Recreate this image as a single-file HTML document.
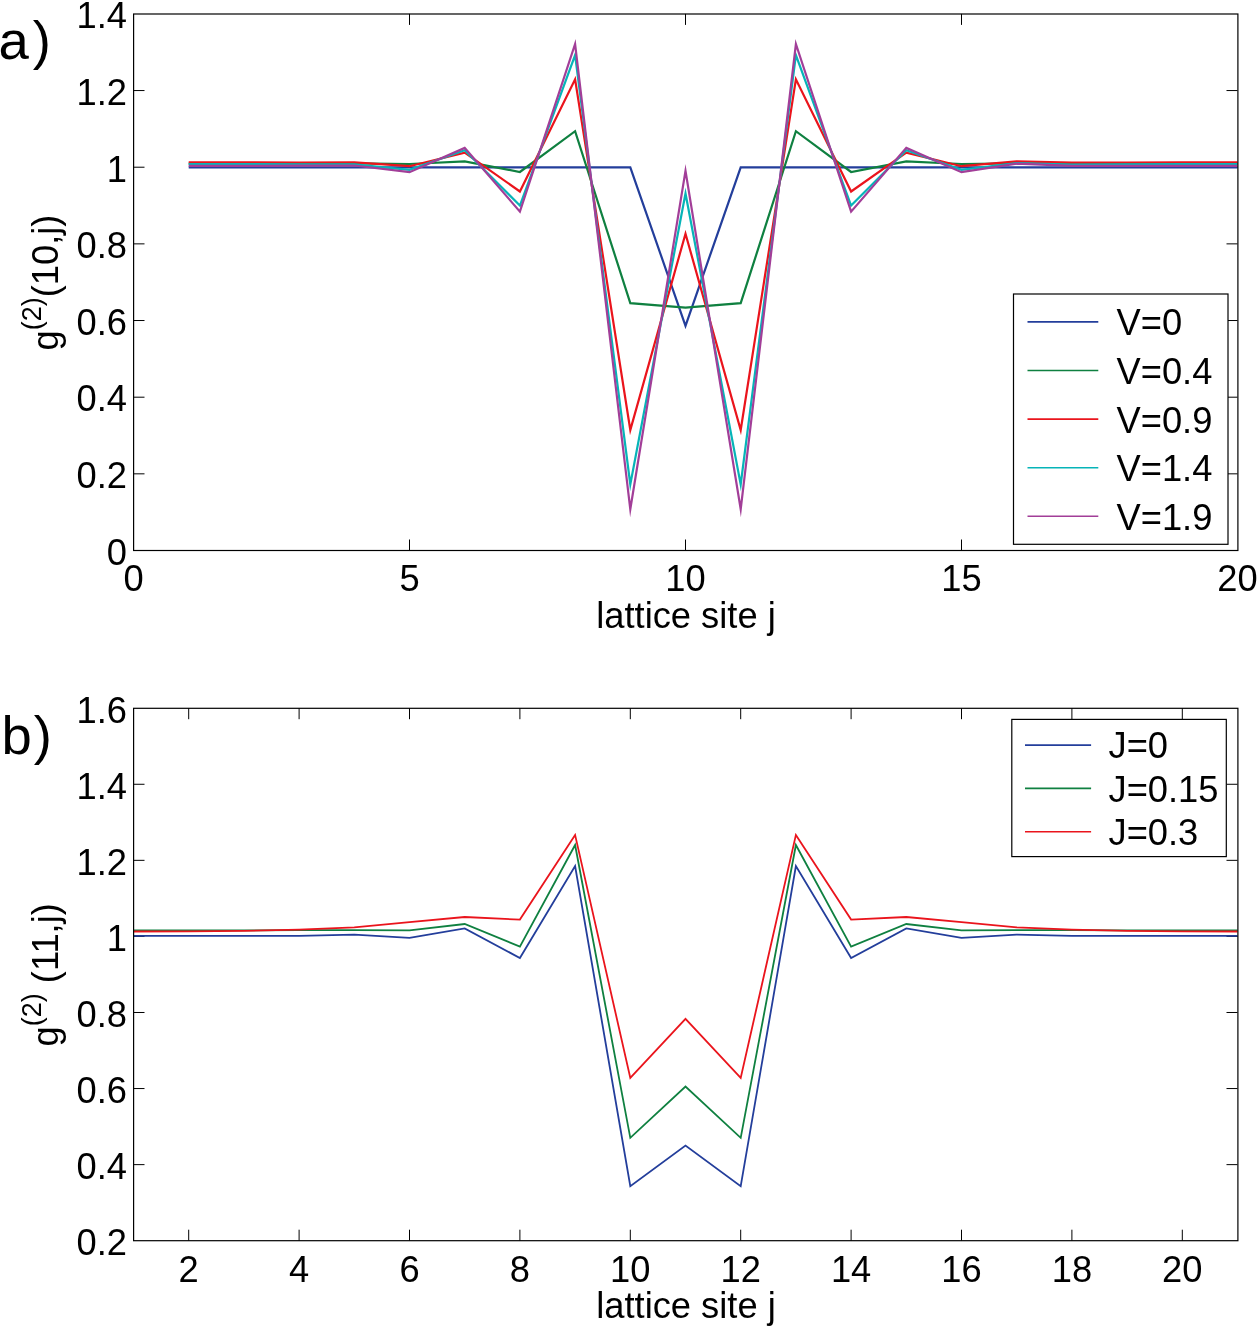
<!DOCTYPE html>
<html><head><meta charset="utf-8"><title>g2 correlation plots</title>
<style>html,body{margin:0;padding:0;background:#fff;}body{width:1259px;height:1328px;overflow:hidden;}svg{display:block;}</style></head><body>
<svg width="1259" height="1328" viewBox="0 0 1259 1328" font-family='"Liberation Sans", Arial, Helvetica, sans-serif' fill="#000">
<rect width="1259" height="1328" fill="#fff"/>
<line x1="409.5" y1="550.5" x2="409.5" y2="539.5" stroke="#000" stroke-width="1.0"/>
<line x1="409.5" y1="13.9" x2="409.5" y2="24.9" stroke="#000" stroke-width="1.0"/>
<line x1="685.5" y1="550.5" x2="685.5" y2="539.5" stroke="#000" stroke-width="1.0"/>
<line x1="685.5" y1="13.9" x2="685.5" y2="24.9" stroke="#000" stroke-width="1.0"/>
<line x1="961.5" y1="550.5" x2="961.5" y2="539.5" stroke="#000" stroke-width="1.0"/>
<line x1="961.5" y1="13.9" x2="961.5" y2="24.9" stroke="#000" stroke-width="1.0"/>
<line x1="133.5" y1="473.84" x2="144.5" y2="473.84" stroke="#000" stroke-width="1.0"/>
<line x1="1237.5" y1="473.84" x2="1226.5" y2="473.84" stroke="#000" stroke-width="1.0"/>
<line x1="133.5" y1="397.19" x2="144.5" y2="397.19" stroke="#000" stroke-width="1.0"/>
<line x1="1237.5" y1="397.19" x2="1226.5" y2="397.19" stroke="#000" stroke-width="1.0"/>
<line x1="133.5" y1="320.53" x2="144.5" y2="320.53" stroke="#000" stroke-width="1.0"/>
<line x1="1237.5" y1="320.53" x2="1226.5" y2="320.53" stroke="#000" stroke-width="1.0"/>
<line x1="133.5" y1="243.87" x2="144.5" y2="243.87" stroke="#000" stroke-width="1.0"/>
<line x1="1237.5" y1="243.87" x2="1226.5" y2="243.87" stroke="#000" stroke-width="1.0"/>
<line x1="133.5" y1="167.21" x2="144.5" y2="167.21" stroke="#000" stroke-width="1.0"/>
<line x1="1237.5" y1="167.21" x2="1226.5" y2="167.21" stroke="#000" stroke-width="1.0"/>
<line x1="133.5" y1="90.56" x2="144.5" y2="90.56" stroke="#000" stroke-width="1.0"/>
<line x1="1237.5" y1="90.56" x2="1226.5" y2="90.56" stroke="#000" stroke-width="1.0"/>
<polyline points="188.7,167.3 243.9,167.3 299.1,167.3 354.3,167.3 409.5,167.3 464.7,167.3 519.9,167.3 575.1,167.3 630.3,167.3 685.5,325.8 740.7,167.3 795.9,167.3 851.1,167.3 906.3,167.3 961.5,167.3 1016.7,167.3 1071.9,167.3 1127.1,167.3 1182.3,167.3 1237.5,167.3" fill="none" stroke="#233e9b" stroke-width="2.2" stroke-linejoin="miter" stroke-miterlimit="10" stroke-linecap="butt"/>
<polyline points="188.7,163.6 243.9,163.6 299.1,163.5 354.3,163.3 409.5,164 464.7,161.4 519.9,172 575.1,131.2 630.3,303.2 685.5,307.6 740.7,303.2 795.9,131.2 851.1,172 906.3,161.4 961.5,164 1016.7,163.4 1071.9,163.5 1127.1,163.6 1182.3,163.6 1237.5,163.6" fill="none" stroke="#0f8040" stroke-width="2.2" stroke-linejoin="miter" stroke-miterlimit="10" stroke-linecap="butt"/>
<polyline points="188.7,162.4 243.9,162.4 299.1,162.5 354.3,162.3 409.5,166.2 464.7,152.6 519.9,191.5 575.1,79.3 630.3,430 685.5,233.7 740.7,430 795.9,79.3 851.1,191.5 906.3,152.6 961.5,166.2 1016.7,161.4 1071.9,162.6 1127.1,162.5 1182.3,162.4 1237.5,162.4" fill="none" stroke="#ea141c" stroke-width="2.2" stroke-linejoin="miter" stroke-miterlimit="10" stroke-linecap="butt"/>
<polyline points="188.7,164.1 243.9,164.2 299.1,164.3 354.3,164.3 409.5,169.8 464.7,150.2 519.9,205.6 575.1,55 630.3,484.5 685.5,193.5 740.7,484.5 795.9,55 851.1,205.6 906.3,150.2 961.5,169.8 1016.7,163 1071.9,164.5 1127.1,164.3 1182.3,164.2 1237.5,164.1" fill="none" stroke="#06b4b8" stroke-width="2.2" stroke-linejoin="miter" stroke-miterlimit="10" stroke-linecap="butt"/>
<polyline points="188.7,165.9 243.9,165.9 299.1,165.6 354.3,165.5 409.5,172.2 464.7,147.9 519.9,211.6 575.1,44 630.3,509.3 685.5,170.8 740.7,509.3 795.9,44 851.1,211.6 906.3,147.9 961.5,172.2 1016.7,163.7 1071.9,165.9 1127.1,165.8 1182.3,165.9 1237.5,165.9" fill="none" stroke="#a23e98" stroke-width="2.2" stroke-linejoin="miter" stroke-miterlimit="10" stroke-linecap="butt"/>
<rect x="133.6" y="14" width="1104.3" height="536.5" fill="none" stroke="#000" stroke-width="1.2"/>
<text x="127" y="564.8" text-anchor="end" font-size="36.3">0</text>
<text x="127" y="488.14" text-anchor="end" font-size="36.3">0.2</text>
<text x="127" y="411.49" text-anchor="end" font-size="36.3">0.4</text>
<text x="127" y="334.83" text-anchor="end" font-size="36.3">0.6</text>
<text x="127" y="258.17" text-anchor="end" font-size="36.3">0.8</text>
<text x="127" y="181.51" text-anchor="end" font-size="36.3">1</text>
<text x="127" y="104.86" text-anchor="end" font-size="36.3">1.2</text>
<text x="127" y="28.2" text-anchor="end" font-size="36.3">1.4</text>
<text x="133.5" y="591.3" text-anchor="middle" font-size="36.3">0</text>
<text x="409.5" y="591.3" text-anchor="middle" font-size="36.3">5</text>
<text x="685.5" y="591.3" text-anchor="middle" font-size="36.3">10</text>
<text x="961.5" y="591.3" text-anchor="middle" font-size="36.3">15</text>
<text x="1237.5" y="591.3" text-anchor="middle" font-size="36.3">20</text>
<text x="686" y="627.5" text-anchor="middle" font-size="36.3">lattice site j</text>
<text transform="translate(58.2,282.5) rotate(-90)" text-anchor="middle" font-size="36.3">g<tspan font-size="27" dy="-17.3">(2)</tspan><tspan dy="17.3">(10,j)</tspan></text>
<text x="-1.5" y="59" text-anchor="start" font-size="54.5">a</text>
<text x="32.7" y="59" text-anchor="start" font-size="54.5">)</text>
<rect x="1013.5" y="294" width="214.5" height="250.3" fill="#fff" stroke="#000" stroke-width="1.2"/>
<line x1="1027.5" y1="321.9" x2="1098.3" y2="321.9" stroke="#233e9b" stroke-width="1.6"/>
<text x="1116.5" y="335.3" text-anchor="start" font-size="36.3">V=0</text>
<line x1="1027.5" y1="370.5" x2="1098.3" y2="370.5" stroke="#0f8040" stroke-width="1.6"/>
<text x="1116.5" y="383.9" text-anchor="start" font-size="36.3">V=0.4</text>
<line x1="1027.5" y1="419.1" x2="1098.3" y2="419.1" stroke="#ea141c" stroke-width="1.6"/>
<text x="1116.5" y="432.5" text-anchor="start" font-size="36.3">V=0.9</text>
<line x1="1027.5" y1="467.7" x2="1098.3" y2="467.7" stroke="#06b4b8" stroke-width="1.6"/>
<text x="1116.5" y="481.1" text-anchor="start" font-size="36.3">V=1.4</text>
<line x1="1027.5" y1="516.3" x2="1098.3" y2="516.3" stroke="#a23e98" stroke-width="1.6"/>
<text x="1116.5" y="529.7" text-anchor="start" font-size="36.3">V=1.9</text>
<line x1="188.7" y1="1240.7" x2="188.7" y2="1229.7" stroke="#000" stroke-width="1.0"/>
<line x1="188.7" y1="708.2" x2="188.7" y2="719.2" stroke="#000" stroke-width="1.0"/>
<line x1="299.1" y1="1240.7" x2="299.1" y2="1229.7" stroke="#000" stroke-width="1.0"/>
<line x1="299.1" y1="708.2" x2="299.1" y2="719.2" stroke="#000" stroke-width="1.0"/>
<line x1="409.5" y1="1240.7" x2="409.5" y2="1229.7" stroke="#000" stroke-width="1.0"/>
<line x1="409.5" y1="708.2" x2="409.5" y2="719.2" stroke="#000" stroke-width="1.0"/>
<line x1="519.9" y1="1240.7" x2="519.9" y2="1229.7" stroke="#000" stroke-width="1.0"/>
<line x1="519.9" y1="708.2" x2="519.9" y2="719.2" stroke="#000" stroke-width="1.0"/>
<line x1="630.3" y1="1240.7" x2="630.3" y2="1229.7" stroke="#000" stroke-width="1.0"/>
<line x1="630.3" y1="708.2" x2="630.3" y2="719.2" stroke="#000" stroke-width="1.0"/>
<line x1="740.7" y1="1240.7" x2="740.7" y2="1229.7" stroke="#000" stroke-width="1.0"/>
<line x1="740.7" y1="708.2" x2="740.7" y2="719.2" stroke="#000" stroke-width="1.0"/>
<line x1="851.1" y1="1240.7" x2="851.1" y2="1229.7" stroke="#000" stroke-width="1.0"/>
<line x1="851.1" y1="708.2" x2="851.1" y2="719.2" stroke="#000" stroke-width="1.0"/>
<line x1="961.5" y1="1240.7" x2="961.5" y2="1229.7" stroke="#000" stroke-width="1.0"/>
<line x1="961.5" y1="708.2" x2="961.5" y2="719.2" stroke="#000" stroke-width="1.0"/>
<line x1="1071.9" y1="1240.7" x2="1071.9" y2="1229.7" stroke="#000" stroke-width="1.0"/>
<line x1="1071.9" y1="708.2" x2="1071.9" y2="719.2" stroke="#000" stroke-width="1.0"/>
<line x1="1182.3" y1="1240.7" x2="1182.3" y2="1229.7" stroke="#000" stroke-width="1.0"/>
<line x1="1182.3" y1="708.2" x2="1182.3" y2="719.2" stroke="#000" stroke-width="1.0"/>
<line x1="133.5" y1="1164.63" x2="144.5" y2="1164.63" stroke="#000" stroke-width="1.0"/>
<line x1="1237.5" y1="1164.63" x2="1226.5" y2="1164.63" stroke="#000" stroke-width="1.0"/>
<line x1="133.5" y1="1088.56" x2="144.5" y2="1088.56" stroke="#000" stroke-width="1.0"/>
<line x1="1237.5" y1="1088.56" x2="1226.5" y2="1088.56" stroke="#000" stroke-width="1.0"/>
<line x1="133.5" y1="1012.49" x2="144.5" y2="1012.49" stroke="#000" stroke-width="1.0"/>
<line x1="1237.5" y1="1012.49" x2="1226.5" y2="1012.49" stroke="#000" stroke-width="1.0"/>
<line x1="133.5" y1="936.41" x2="144.5" y2="936.41" stroke="#000" stroke-width="1.0"/>
<line x1="1237.5" y1="936.41" x2="1226.5" y2="936.41" stroke="#000" stroke-width="1.0"/>
<line x1="133.5" y1="860.34" x2="144.5" y2="860.34" stroke="#000" stroke-width="1.0"/>
<line x1="1237.5" y1="860.34" x2="1226.5" y2="860.34" stroke="#000" stroke-width="1.0"/>
<line x1="133.5" y1="784.27" x2="144.5" y2="784.27" stroke="#000" stroke-width="1.0"/>
<line x1="1237.5" y1="784.27" x2="1226.5" y2="784.27" stroke="#000" stroke-width="1.0"/>
<polyline points="133.5,935.9 188.7,935.9 243.9,935.9 299.1,935.8 354.3,934.6 409.5,937.8 464.7,928.4 519.9,958 575.1,866 630.3,1186.2 685.5,1145.5 740.7,1186.2 795.9,866 851.1,958 906.3,928.4 961.5,937.8 1016.7,934.6 1071.9,935.8 1127.1,935.9 1182.3,935.9 1237.5,935.9" fill="none" stroke="#233e9b" stroke-width="1.8" stroke-linejoin="miter" stroke-miterlimit="10" stroke-linecap="butt"/>
<polyline points="133.5,930.4 188.7,930.4 243.9,930.3 299.1,930.2 354.3,930.1 409.5,930.4 464.7,924 519.9,946.6 575.1,845 630.3,1137.8 685.5,1086.5 740.7,1137.8 795.9,845 851.1,946.6 906.3,924 961.5,930.4 1016.7,930.1 1071.9,930.2 1127.1,930.3 1182.3,930.4 1237.5,930.4" fill="none" stroke="#0f8040" stroke-width="1.8" stroke-linejoin="miter" stroke-miterlimit="10" stroke-linecap="butt"/>
<polyline points="133.5,931.5 188.7,931.3 243.9,930.8 299.1,929.6 354.3,927.3 409.5,922.2 464.7,917 519.9,919.6 575.1,834.9 630.3,1077.9 685.5,1018.9 740.7,1077.9 795.9,834.9 851.1,919.6 906.3,917 961.5,922.2 1016.7,927.3 1071.9,929.6 1127.1,930.8 1182.3,931.3 1237.5,931.5" fill="none" stroke="#ea141c" stroke-width="1.8" stroke-linejoin="miter" stroke-miterlimit="10" stroke-linecap="butt"/>
<rect x="133.6" y="708.3" width="1104.3" height="532.4" fill="none" stroke="#000" stroke-width="1.2"/>
<text x="127" y="1255" text-anchor="end" font-size="36.3">0.2</text>
<text x="127" y="1178.93" text-anchor="end" font-size="36.3">0.4</text>
<text x="127" y="1102.86" text-anchor="end" font-size="36.3">0.6</text>
<text x="127" y="1026.79" text-anchor="end" font-size="36.3">0.8</text>
<text x="127" y="950.71" text-anchor="end" font-size="36.3">1</text>
<text x="127" y="874.64" text-anchor="end" font-size="36.3">1.2</text>
<text x="127" y="798.57" text-anchor="end" font-size="36.3">1.4</text>
<text x="127" y="722.5" text-anchor="end" font-size="36.3">1.6</text>
<text x="188.7" y="1281.5" text-anchor="middle" font-size="36.3">2</text>
<text x="299.1" y="1281.5" text-anchor="middle" font-size="36.3">4</text>
<text x="409.5" y="1281.5" text-anchor="middle" font-size="36.3">6</text>
<text x="519.9" y="1281.5" text-anchor="middle" font-size="36.3">8</text>
<text x="630.3" y="1281.5" text-anchor="middle" font-size="36.3">10</text>
<text x="740.7" y="1281.5" text-anchor="middle" font-size="36.3">12</text>
<text x="851.1" y="1281.5" text-anchor="middle" font-size="36.3">14</text>
<text x="961.5" y="1281.5" text-anchor="middle" font-size="36.3">16</text>
<text x="1071.9" y="1281.5" text-anchor="middle" font-size="36.3">18</text>
<text x="1182.3" y="1281.5" text-anchor="middle" font-size="36.3">20</text>
<text x="686" y="1317.8" text-anchor="middle" font-size="36.3">lattice site j</text>
<text transform="translate(58.2,974.8) rotate(-90)" text-anchor="middle" font-size="36.3">g<tspan font-size="27" dy="-17.3">(2)</tspan><tspan dy="17.3"> (11,j)</tspan></text>
<text x="1.5" y="753.6" text-anchor="start" font-size="54.5">b</text>
<text x="33.75" y="753.6" text-anchor="start" font-size="54.5">)</text>
<rect x="1011.8" y="719.4" width="214.5" height="137.2" fill="#fff" stroke="#000" stroke-width="1.2"/>
<line x1="1025" y1="745.1" x2="1091.1" y2="745.1" stroke="#233e9b" stroke-width="1.6"/>
<text x="1108.5" y="758.2" text-anchor="start" font-size="36.3">J=0</text>
<line x1="1025" y1="788.4" x2="1091.1" y2="788.4" stroke="#0f8040" stroke-width="1.6"/>
<text x="1108.5" y="801.5" text-anchor="start" font-size="36.3">J=0.15</text>
<line x1="1025" y1="831.7" x2="1091.1" y2="831.7" stroke="#ea141c" stroke-width="1.6"/>
<text x="1108.5" y="844.8" text-anchor="start" font-size="36.3">J=0.3</text>
</svg>
</body></html>
